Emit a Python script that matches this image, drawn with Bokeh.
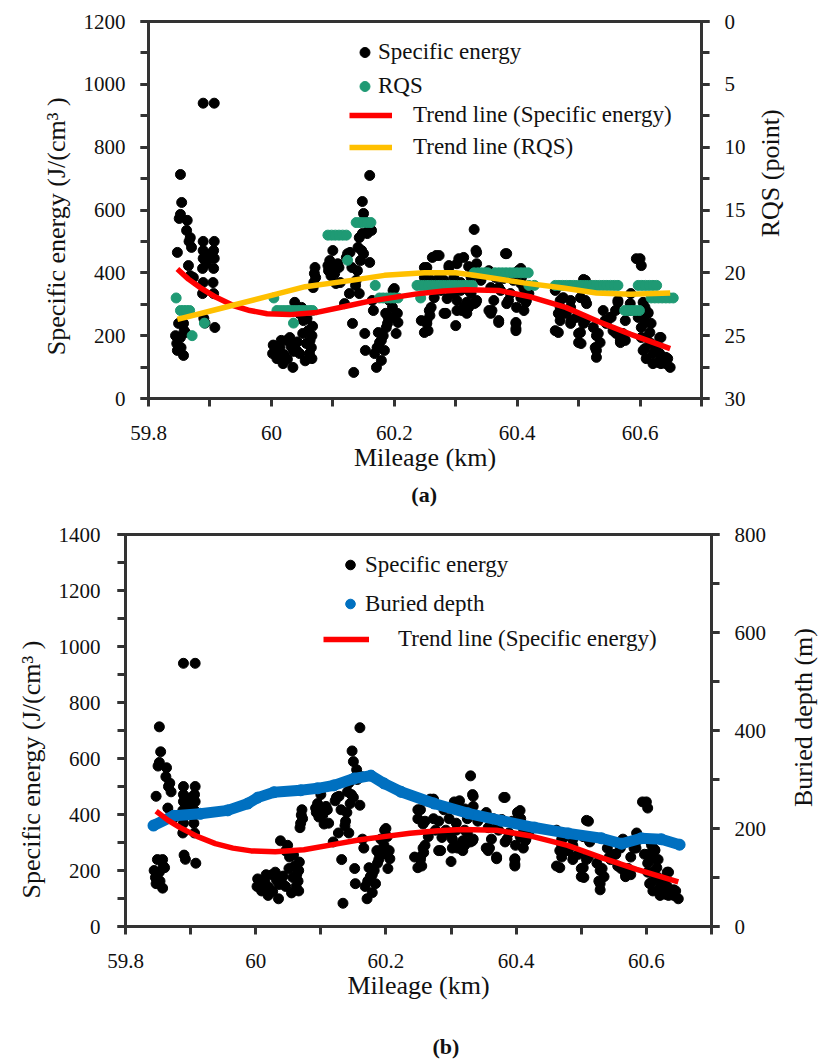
import math
from bokeh.plotting import figure
from bokeh.models import (Range1d, LinearAxis, SingleIntervalTicker, FixedTicker,
                          NumeralTickFormatter, Legend, LegendItem, CustomJSTickFormatter, Label)
from bokeh.layouts import column, row
from bokeh.embed import file_html
from bokeh.resources import INLINE

# ---------------- data ----------------
# Specific energy scatter (km, J/cm3)
se_km = [
    59.844, 59.846, 59.847, 59.847, 59.849, 59.850, 59.852, 59.852, 59.852, 59.853,
    59.854, 59.857, 59.857, 59.858, 59.860, 59.862, 59.863, 59.865, 59.866, 59.868,
    59.868, 59.870, 59.873,
    59.889, 59.889, 59.889, 59.889, 59.888, 59.889, 59.888, 59.890, 59.892, 59.907,
    59.907, 59.906, 59.907, 59.906, 59.905, 59.906, 59.908, 59.895, 59.900,
    60.002, 60.003, 60.009, 60.011, 60.014, 60.016, 60.019, 60.020, 60.025, 60.026,
    60.030, 60.032, 60.035, 60.036, 60.038, 60.041, 60.042, 60.046, 60.046, 60.049,
    60.051, 60.052, 60.055, 60.057, 60.058, 60.060, 60.062, 60.063, 60.065, 60.066,
    60.066, 60.067, 60.068, 60.069, 60.070, 60.071, 60.072,
    60.092, 60.093, 60.095, 60.097, 60.100, 60.101, 60.103, 60.105, 60.108, 60.110,
    60.112, 60.119, 60.122, 60.124, 60.127, 60.128, 60.131, 60.132, 60.134, 60.137,
    60.138, 60.140, 60.141, 60.143, 60.143, 60.145, 60.147, 60.148, 60.148, 60.150,
    60.150, 60.152, 60.153, 60.155, 60.156, 60.158, 60.160, 60.160, 60.163, 60.164,
    60.166, 60.168, 60.171, 60.172, 60.174, 60.176, 60.179, 60.179, 60.182, 60.184,
    60.187, 60.189, 60.190, 60.194, 60.197, 60.200, 60.202, 60.203, 60.205, 60.206,
    60.192, 60.186, 60.198,
    60.244, 60.249, 60.249, 60.249, 60.253, 60.253, 60.253, 60.255, 60.257, 60.257,
    60.258, 60.260, 60.260, 60.262, 60.265, 60.268, 60.273, 60.273, 60.276, 60.281,
    60.281, 60.284, 60.286, 60.289, 60.289, 60.292, 60.297, 60.297, 60.300, 60.302,
    60.302, 60.302, 60.305, 60.308, 60.308, 60.310, 60.313, 60.313, 60.318, 60.318,
    60.321, 60.321, 60.321, 60.325, 60.325, 60.330, 60.330, 60.333, 60.333, 60.334,
    60.334, 60.334, 60.341,
    60.354, 60.354, 60.357, 60.357, 60.359, 60.362, 60.365, 60.370, 60.370, 60.370,
    60.373, 60.378, 60.381, 60.383, 60.383, 60.386, 60.389, 60.394, 60.398, 60.398,
    60.398, 60.399, 60.402, 60.406, 60.406, 60.406, 60.407, 60.411, 60.411, 60.414,
    60.415, 60.419, 60.398,
    60.462, 60.462, 60.467, 60.467, 60.470, 60.470, 60.470, 60.475, 60.480, 60.487,
    60.487, 60.487, 60.488, 60.496, 60.500, 60.500, 60.503, 60.503, 60.504, 60.508,
    60.508, 60.511, 60.511, 60.511, 60.513, 60.524, 60.527, 60.529, 60.529, 60.529,
    60.532, 60.535, 60.540, 60.543, 60.545, 60.551, 60.553, 60.556, 60.560, 60.561,
    60.564, 60.564, 60.568, 60.568, 60.572,
    60.576, 60.576, 60.581, 60.584, 60.584, 60.585, 60.594, 60.597, 60.600, 60.602,
    60.602, 60.602, 60.602, 60.605, 60.605, 60.608, 60.608, 60.610, 60.610, 60.610,
    60.613, 60.613, 60.616, 60.618, 60.618, 60.621, 60.621, 60.626, 60.629, 60.632,
    60.632, 60.634, 60.634, 60.637, 60.640, 60.642, 60.642, 60.645, 60.649,
]
se_val = [
    200, 175, 465, 153, 239, 573, 713, 586, 194, 162,
    624, 239, 137, 216, 210, 535, 567, 423, 500, 512,
    391, 481, 385,
    940, 500, 471, 446, 414, 369, 334, 255, 240, 940,
    500, 471, 446, 414, 369, 334, 226, 430, 460,
    143, 170, 127, 155, 162, 185, 111, 140, 185, 125,
    194, 165, 99, 150, 306, 153, 180, 143, 270, 290,
    207, 248, 120, 175, 255, 216, 143, 185, 162, 127,
    200, 230, 353, 369, 398, 417, 385,
    423, 407, 439, 391, 471, 407, 398, 366, 429, 417,
    369, 302, 449, 461, 334, 465, 417, 239, 83, 360,
    376, 407, 481, 512, 334, 439, 471, 627, 525, 589,
    461, 207, 153, 560, 525, 535, 710, 433, 535, 312,
    280, 143, 99, 162, 210, 178, 185, 121, 200, 153,
    226, 239, 258, 258, 290, 350, 321, 207, 271, 242,
    312, 271, 344,
    248, 417, 385, 210, 417, 239, 248, 216, 366, 280,
    264, 376, 290, 449, 321, 455, 455, 385, 344, 376,
    271, 271, 318, 423, 417, 344, 385, 334, 232, 429,
    312, 280, 445, 369, 344, 280, 449, 290, 306, 271,
    420, 344, 290, 385, 334, 538, 302, 471, 306, 465,
    429, 312, 376,
    407, 280, 353, 271, 280, 312, 385, 353, 248, 242,
    344, 382, 461, 461, 302, 312, 334, 376, 242, 223,
    239, 290, 407, 366, 414, 321, 385, 350, 280, 306,
    312, 334, 216,
    344, 216, 271, 210, 312, 290, 248, 321, 271, 312,
    239, 290, 248, 258, 207, 178, 321, 210, 175, 379,
    239, 376, 312, 248, 302, 226, 162, 200, 153, 131,
    207, 178, 280, 248, 239, 258, 258, 216, 280, 207,
    312, 306, 185, 178, 207,
    185, 248, 280, 280, 302, 334, 445, 258, 445, 423,
    258, 194, 226, 306, 153, 290, 159, 242, 127, 194,
    271, 274, 210, 239, 175, 143, 111, 153, 115, 194,
    143, 194, 111, 121, 121, 131, 111, 127, 99,
]

# RQS scatter (km, point) - right axis, reversed
rqs_km = [
    59.845, 59.852, 59.857, 59.862, 59.867, 59.871, 59.891,
    60.004, 60.009, 60.015, 60.021, 60.027, 60.033, 60.039, 60.045, 60.051, 60.057,
    60.063, 60.067, 60.036,
    60.092, 60.098, 60.104, 60.110, 60.116, 60.122, 60.124,
    60.138, 60.144, 60.150, 60.156, 60.162, 60.169,
    60.176, 60.182, 60.188, 60.194, 60.200, 60.206,
    60.237, 60.243, 60.249, 60.255, 60.261, 60.267, 60.273, 60.279, 60.285, 60.291,
    60.297, 60.303, 60.309, 60.315, 60.321, 60.327, 60.243,
    60.330, 60.336, 60.342, 60.348, 60.352,
    60.364, 60.370, 60.376, 60.382, 60.388, 60.394, 60.400, 60.406, 60.412, 60.418,
    60.419, 60.428,
    60.462, 60.468, 60.474, 60.480, 60.486, 60.492, 60.498, 60.504, 60.510, 60.516,
    60.522, 60.528, 60.534, 60.540, 60.546, 60.552, 60.558, 60.564,
    60.575, 60.581, 60.587, 60.593, 60.599,
    60.597, 60.603, 60.609, 60.615, 60.621, 60.627,
    60.618, 60.624, 60.630, 60.636, 60.642, 60.648, 60.654,
]
rqs_val = [
    22, 23, 23, 23, 23, 25, 24,
    22, 23, 23, 23, 23, 23, 23, 23, 23, 23,
    23, 23, 24,
    17, 17, 17, 17, 17, 17, 19,
    16, 16, 16, 16, 16, 21,
    22, 22, 22, 22, 22, 22,
    21, 21, 21, 21, 21, 21, 21, 21, 21, 21,
    21, 21, 21, 21, 21, 21, 22,
    20, 20, 20, 20, 20,
    20, 20, 20, 20, 20, 20, 20, 20, 20, 20,
    21, 21,
    21, 21, 21, 21, 21, 21, 21, 21, 21, 21,
    21, 21, 21, 21, 21, 21, 21, 21,
    23, 23, 23, 23, 23,
    21, 21, 21, 21, 21, 21,
    22, 22, 22, 22, 22, 22, 22,
]

# Trend line (Specific energy)
trend_se_km = [59.847, 59.865, 59.884, 59.910, 59.938, 59.965, 59.993, 60.030, 60.074,
               60.127, 60.160, 60.197, 60.237, 60.280, 60.317, 60.370, 60.423, 60.479,
               60.532, 60.585, 60.649]
trend_se_val = [412, 380, 353, 322, 296, 280, 270, 267, 274,
                296, 310, 321, 333, 342, 346, 344, 323, 290,
                245, 204, 159]

# Trend line (RQS)
trend_rqs_km = [59.847, 59.920, 60.000, 60.055, 60.130, 60.184, 60.249, 60.300, 60.330,
                60.411, 60.475, 60.529, 60.584, 60.649]
trend_rqs_val = [23.7, 22.8, 21.8, 21.1, 20.6, 20.2, 20.0, 20.0, 20.2,
                 20.8, 21.2, 21.6, 21.7, 21.6]

# Buried depth (km, m)
depth_km = [59.843, 59.874, 59.915, 59.957, 59.988, 60.003, 60.028, 60.069, 60.095,
            60.120, 60.151, 60.177, 60.197, 60.223, 60.274, 60.326, 60.377, 60.428,
            60.480, 60.531, 60.562, 60.592, 60.623, 60.651]
depth_val = [206, 226, 230, 237, 251, 263, 274, 278, 282,
             288, 302, 308, 292, 275, 251, 231, 216, 202,
             190, 180, 169, 180, 178, 167]

x_ticks = [59.8, 60.0, 60.2, 60.4, 60.6]
x_minor = [59.9, 60.1, 60.3, 60.5, 60.7]

# ---------------- styling ----------------
FONT = "Liberation Serif"
AX = "#333333"
TXT = "#111111"
GREEN = "#1f9a74"
RED = "#ff0000"
YELLOW = "#ffc000"
BLUE = "#0070c0"
NB = "\u00a0"


def style_axis(ax, standoff=14):
    ax.axis_line_width = 3
    ax.axis_line_color = AX
    ax.major_tick_line_width = 3
    ax.major_tick_line_color = AX
    ax.minor_tick_line_width = 3
    ax.minor_tick_line_color = AX
    ax.major_tick_out = 8
    ax.major_tick_in = 0
    ax.minor_tick_out = 8
    ax.minor_tick_in = 0
    ax.major_label_text_font = FONT
    ax.major_label_text_font_size = "21px"
    ax.major_label_text_color = TXT
    ax.major_label_standoff = standoff
    ax.axis_label_text_font = FONT
    ax.axis_label_text_font_size = "26px"
    ax.axis_label_text_font_style = "normal"
    ax.axis_label_text_color = TXT


def tag_axis(text, tick, standoff):
    """A bottom axis with no line or tick that carries the panel tag."""
    ax = LinearAxis(ticker=FixedTicker(ticks=[tick], minor_ticks=[]),
                    formatter=CustomJSTickFormatter(code="return %r;" % text))
    ax.axis_line_color = None
    ax.major_tick_line_color = None
    ax.minor_tick_line_color = None
    ax.major_tick_out = 0
    ax.major_tick_in = 0
    ax.minor_tick_out = 0
    ax.minor_tick_in = 0
    ax.major_label_standoff = standoff
    ax.major_label_text_font = FONT
    ax.major_label_text_font_size = "22px"
    ax.major_label_text_color = TXT
    ax.major_label_text_font_style = "bold"
    return ax


def side_title(text, width, height, fx, fy):
    """Narrow strip holding a right-hand axis title that reads bottom to top."""
    s = figure(width=width, height=height, x_range=Range1d(0, 1), y_range=Range1d(0, 1),
               output_backend="svg", toolbar_location=None, min_border=0)
    s.axis.visible = False
    s.grid.visible = False
    s.outline_line_color = None
    s.background_fill_color = "white"
    s.border_fill_color = "white"
    s.add_layout(Label(x=fx, y=fy, text=text, angle=math.pi / 2, text_align="center",
                       text_baseline="middle", text_font=FONT, text_font_size="26px",
                       text_color=TXT))
    return s


def make_fig(width, height, ymax, bl, br, bt, bb, ylabel):
    p = figure(width=width, height=height, x_range=Range1d(59.8, 60.7),
               y_range=Range1d(0, ymax), output_backend="svg", toolbar_location=None,
               min_border_left=bl, min_border_right=br, min_border_top=bt,
               min_border_bottom=bb)
    p.xgrid.visible = False
    p.ygrid.visible = False
    p.outline_line_color = AX
    p.outline_line_width = 3
    p.outline_line_alpha = 1
    p.xaxis.ticker = FixedTicker(ticks=x_ticks, minor_ticks=x_minor)
    p.xaxis.formatter = NumeralTickFormatter(format="0.[0]")
    p.xaxis.axis_label = "Mileage (km)"
    p.yaxis.axis_label = ylabel
    p.background_fill_color = "white"
    p.border_fill_color = "white"
    return p


def make_legend(items, x, y, gw, gh, standoff, spacing):
    lg = Legend(items=items, location=(x, y), glyph_width=gw, glyph_height=gh,
                label_standoff=standoff, spacing=spacing, padding=0, margin=0,
                border_line_alpha=0, background_fill_alpha=0,
                label_text_font=FONT, label_text_font_size="23px",
                label_text_color=TXT)
    return lg


SE_LABEL = "Specific energy (J/(cm\u00b3 )"

# ---------------- panel (a) ----------------
W1 = 748
p1 = make_fig(W1, 520, 1200, 148, W1 - 701, 21, 122, SE_LABEL + NB * 5)
p1.yaxis.ticker = SingleIntervalTicker(interval=200, num_minor_ticks=2)
p1.extra_y_ranges = {"rqs": Range1d(30, 0)}
ax_r1 = LinearAxis(y_range_name="rqs", ticker=SingleIntervalTicker(interval=5, num_minor_ticks=2))
p1.add_layout(ax_r1, "right")
style_axis(p1.xaxis[0], 19)
style_axis(p1.yaxis[0], 15)
style_axis(ax_r1, 15)
p1.xaxis[0].axis_label_standoff = 0
p1.yaxis[0].axis_label_standoff = 10
p1.add_layout(tag_axis("(a)", 60.2486, 7), "below")

r_se1 = p1.scatter(se_km, se_val, size=10, color="black")
r_rqs = p1.scatter(rqs_km, rqs_val, size=10, color=GREEN, y_range_name="rqs")
r_tse1 = p1.line(trend_se_km, trend_se_val, line_width=5.5, color=RED, line_join="round")
r_trqs = p1.line(trend_rqs_km, trend_rqs_val, line_width=5.5, color=YELLOW,
                 line_join="round", y_range_name="rqs")

lg1 = make_legend([LegendItem(label="Specific energy", renderers=[r_se1]),
                   LegendItem(label="RQS", renderers=[r_rqs])],
                  204, 297, 25, 30, 1, 4)
lg2 = make_legend([LegendItem(label="Trend line (Specific energy)", renderers=[r_tse1]),
                   LegendItem(label="Trend line (RQS)", renderers=[r_trqs])],
                  201, 237, 43, 28, 21, 4)
p1.add_layout(lg1)
p1.add_layout(lg2)
s1 = side_title("RQS (point)", 818 - W1, 520, (770 - W1) / (818 - W1), 1 - 209.5 / 520)

# ---------------- panel (b) ----------------
W2 = 769
p2 = make_fig(W2, 544, 1400, 125, W2 - 711, 14, 138, SE_LABEL + NB * 12)
p2.yaxis.ticker = SingleIntervalTicker(interval=200, num_minor_ticks=2)
p2.extra_y_ranges = {"depth": Range1d(0, 800)}
ax_r2 = LinearAxis(y_range_name="depth", ticker=SingleIntervalTicker(interval=200, num_minor_ticks=2))
p2.add_layout(ax_r2, "right")
style_axis(p2.xaxis[0], 19)
style_axis(p2.yaxis[0], 17)
style_axis(ax_r2, 15)
p2.xaxis[0].axis_label_standoff = 0
p2.yaxis[0].axis_label_standoff = 10
p2.add_layout(tag_axis("(b)", 60.292, 31), "below")

r_se2 = p2.scatter(se_km, se_val, size=10, color="black")
p2.line(depth_km, depth_val, line_width=11, color=BLUE, line_join="round", line_cap="round",
        y_range_name="depth")
r_dep = p2.scatter(depth_km, depth_val, size=11, color=BLUE, y_range_name="depth")
r_tse2 = p2.line(trend_se_km, trend_se_val, line_width=5.5, color=RED, line_join="round")

lg3 = make_legend([LegendItem(label="Specific energy", renderers=[r_se2]),
                   LegendItem(label="Buried depth", renderers=[r_dep])],
                  213, 305, 24, 35, 3, 4)
lg4 = make_legend([LegendItem(label="Trend line (Specific energy)", renderers=[r_tse2])],
                  198, 271, 46, 32, 29, 4)
p2.add_layout(lg3)
p2.add_layout(lg4)
s2 = side_title("Buried depth (m)", 818 - W2, 544, (803 - W2) / (818 - W2), 0.533)

layout = column(row(p1, s1, spacing=0), row(p2, s2, spacing=0), spacing=0)
open("out.html", "w").write(file_html(layout, INLINE))
